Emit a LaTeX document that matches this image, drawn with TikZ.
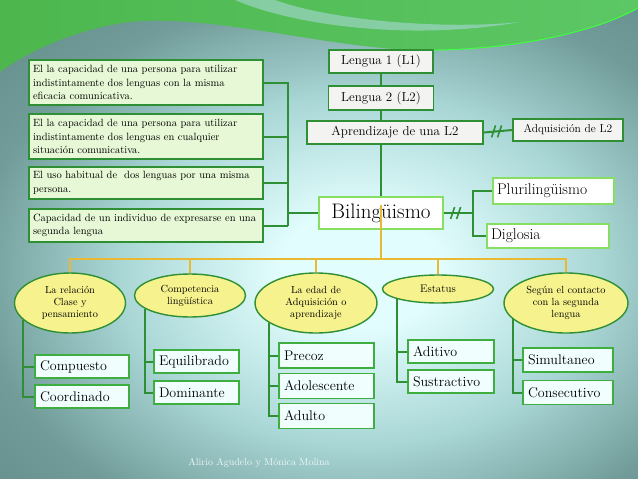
\documentclass[tikz,border=0pt]{standalone}
\usepackage{tikz}
\usetikzlibrary{shapes.geometric}
\definecolor{bgin}{HTML}{E2FDFD}
\definecolor{bgmid}{HTML}{A9D7D6}
\definecolor{bgout}{HTML}{719C99}
\definecolor{bgdark}{HTML}{5B8581}
\definecolor{swooshl}{HTML}{4DB74E}
\definecolor{swooshr}{HTML}{5CC765}
\definecolor{linegreen}{HTML}{2F8F34}
\definecolor{boxgreen}{HTML}{3DAE3F}
\definecolor{lightgreen}{HTML}{86DE62}
\definecolor{deffill}{HTML}{E6F8D5}
\definecolor{topfill}{HTML}{F3F3F1}
\definecolor{leaffill}{HTML}{F0FEFE}
\definecolor{ellfill}{HTML}{F6F28E}
\definecolor{busyellow}{HTML}{E9B934}
\pgfdeclareradialshading{slidebg}{\pgfpoint{0bp}{0bp}}{color(0bp)=(bgin); color(5bp)=(bgin); color(15bp)=(bgmid); color(24bp)=(bgout); color(35bp)=(bgdark); color(50bp)=(bgdark)}
\tikzset{
  defbox/.style={draw=linegreen, line width=1.6pt, fill=deffill, align=left, text width=226pt, inner xsep=4pt, inner ysep=2pt, font=\fontsize{10.5}{13.5}\selectfont},
  topbox/.style={draw=linegreen, line width=1.4pt, fill=topfill, inner sep=1pt, font=\fontsize{13}{15}\selectfont},
  mainbox/.style={draw=lightgreen, line width=2pt, fill=white, inner sep=1pt, font=\fontsize{15.5}{18}\selectfont},
  catell/.style={ellipse, draw=linegreen, line width=1.4pt, fill=ellfill, inner sep=0pt, align=center, font=\fontsize{10.3}{12}\selectfont},
  leafbox/.style={draw=boxgreen, line width=1.8pt, fill=leaffill, text width=#1, align=left, inner xsep=5pt, inner ysep=1pt, minimum height=23pt, font=\fontsize{14}{16}\selectfont},
  greenline/.style={draw=linegreen, line width=2pt},
  yellowline/.style={draw=busyellow, line width=1.5pt},
  hashmark/.pic={\draw[greenline, line width=1.6pt] (-5,6) -- (-1,-6) (1,6) -- (5,-6);}
}
\begin{document}
\begin{tikzpicture}[x=1pt, y=-1pt]
        \useasboundingbox (0,0) rectangle (638,479);
        \begin{scope}
        \clip (0,0) rectangle (638,479);
        \shade[shading=slidebg] (-40,-20) rectangle (760,560);
        \shade[left color=swooshl, right color=swooshr] (0,0) -- (638,0) -- (638,8) .. controls (590,35) and (500,52) .. (410,50) .. controls (320,46) and (210,14) .. (130,22) .. controls (80,28) and (30,50) .. (0,72) -- cycle;
        \fill[bgmid, opacity=0.6] (235,0) .. controls (300,28) and (420,40) .. (520,22) .. controls (440,30) and (330,20) .. (275,0) -- cycle;
        \draw[green!75!white, line width=1pt] (410,50) .. controls (500,52) and (590,35) .. (638,8);
        \end{scope}

        \node[defbox, minimum height=45pt] (def1) at (146,82.5) {El la capacidad de una persona para utilizar\\ indistintamente dos lenguas con la misma\\ eficacia comunicativa.};
        \node[defbox, minimum height=45pt] (def2) at (146,136.5) {El la capacidad de una persona para utilizar\\ indistintamente dos lenguas en cualquier\\ situación comunicativa.};
        \node[defbox, minimum height=32pt] (def3) at (146,183) {El uso habitual de\ \ dos lenguas por una misma\\ persona.};
        \node[defbox, minimum height=33pt] (def4) at (146,225.5) {Capacidad de un individuo de expresarse en una\\ segunda lengua};

        \node[topbox, minimum width=104pt, minimum height=23pt] (l1) at (381,61.5) {Lengua 1 (L1)};
        \node[topbox, minimum width=105pt, minimum height=24pt] (l2) at (381,98) {Lengua 2 (L2)};
        \node[topbox, minimum width=176pt, minimum height=23pt] (apr) at (395,132.5) {Aprendizaje de una L2};
        \node[topbox, minimum width=110pt, minimum height=22pt, font=\fontsize{11.5}{13}\selectfont] (adq) at (568,130) {Adquisición de L2};
        \node[mainbox, minimum width=124pt, minimum height=32pt, font=\fontsize{21}{24}\selectfont] (bil) at (381,213) {Bilingüismo};
        \node[mainbox, minimum height=26pt, align=left, text width=113pt, inner xsep=4pt] (plu) at (553.5,191) {Plurilingüismo};
        \node[mainbox, minimum height=24pt, align=left, text width=114pt, inner xsep=4pt] (dig) at (548,236) {Diglosia};

        \coordinate (jl) at (288,213);
        \draw[greenline] (def1.east) -- (def1.east -| jl) -- (def4.east -| jl);
        \draw[greenline] (def2.east) -- (def2.east -| jl);
        \draw[greenline] (def3.east) -- (def3.east -| jl);
        \draw[greenline] (def4.east) -- (def4.east -| jl);
        \draw[greenline] (jl) -- (bil.west);

        \draw[greenline] (l1) -- (l2);
        \draw[greenline] (l2.south) -- (l2.south |- apr.north);
        \draw[greenline] (apr.south -| l2) -- (bil.north);
        \draw[greenline] (apr.east) -- (adq.west) pic[pos=0.45]{hashmark};
        \coordinate (jr) at (473,213);
        \draw[greenline] (bil.east) -- (jr) pic[pos=0.4]{hashmark};
        \draw[greenline] (plu.west) -| (jr) |- (dig.west);

        \node[catell, minimum width=111pt, minimum height=60pt] (e1) at (70,303) {La relación\\ Clase y\\ pensamiento};
        \node[catell, minimum width=111pt, minimum height=43pt] (e2) at (190,295.5) {Competencia\\ lingüística};
        \node[catell, minimum width=122pt, minimum height=60pt] (e3) at (316,303) {La edad de\\ Adquisición o\\ aprendizaje};
        \node[catell, minimum width=111pt, minimum height=28pt, font=\fontsize{11}{12}\selectfont] (e4) at (438,289) {Estatus};
        \node[catell, minimum width=124pt, minimum height=60pt] (e5) at (566,303) {Según el contacto\\ con la segunda\\ lengua};

        \coordinate (yb) at (381,259);
        \draw[yellowline] ([yshift=8pt]bil.center) -- (yb);
        \draw[yellowline] (e1.north) -- (e1.north |- yb) -- (e5.north |- yb) -- (e5.north);
        \draw[yellowline] (e2.north) -- (e2.north |- yb);
        \draw[yellowline] (e3.north) -- (e3.north |- yb);
        \draw[yellowline] (e4.north) -- (e4.north |- yb);

        \node[leafbox=84pt] (comp) at (82,366.5) {Compuesto};
        \node[leafbox=84pt] (coor) at (82,396.5) {Coordinado};
        \node[leafbox=75pt] (equi) at (196.5,361.5) {Equilibrado};
        \node[leafbox=75pt] (domi) at (196.5,392.5) {Dominante};
        \node[leafbox=85pt, minimum height=25pt] (prec) at (326.5,355.5) {Precoz};
        \node[leafbox=85pt, minimum height=25pt] (adol) at (326.5,386) {Adolescente};
        \node[leafbox=85pt, minimum height=25pt] (adul) at (326.5,416) {Adulto};
        \node[leafbox=76pt] (adit) at (451,351.5) {Aditivo};
        \node[leafbox=76pt] (sust) at (451,381.5) {Sustractivo};
        \node[leafbox=80pt, minimum height=24pt] (simu) at (568,360) {Simultaneo};
        \node[leafbox=80pt, minimum height=24pt] (cons) at (568,392.5) {Consecutivo};

        \draw[greenline] (e1.200) |- (comp.west);
        \draw[greenline] (e1.200) |- (coor.west);
        \draw[greenline] (e2.196) |- (equi.west);
        \draw[greenline] (e2.196) |- (domi.west);
        \draw[greenline] (e3.203) |- (prec.west);
        \draw[greenline] (e3.203) |- (adol.west);
        \draw[greenline] (e3.203) |- (adul.west);
        \draw[greenline] (e4.194) |- (adit.west);
        \draw[greenline] (e4.194) |- (sust.west);
        \draw[greenline] (e5.197) |- (simu.west);
        \draw[greenline] (e5.197) |- (cons.west);

        \node[font=\fontsize{10}{12}\selectfont, text=white!80!bgmid] (credit) at (259,463) {Alirio Agudelo y Mónica Molina};
\end{tikzpicture}
\end{document}
